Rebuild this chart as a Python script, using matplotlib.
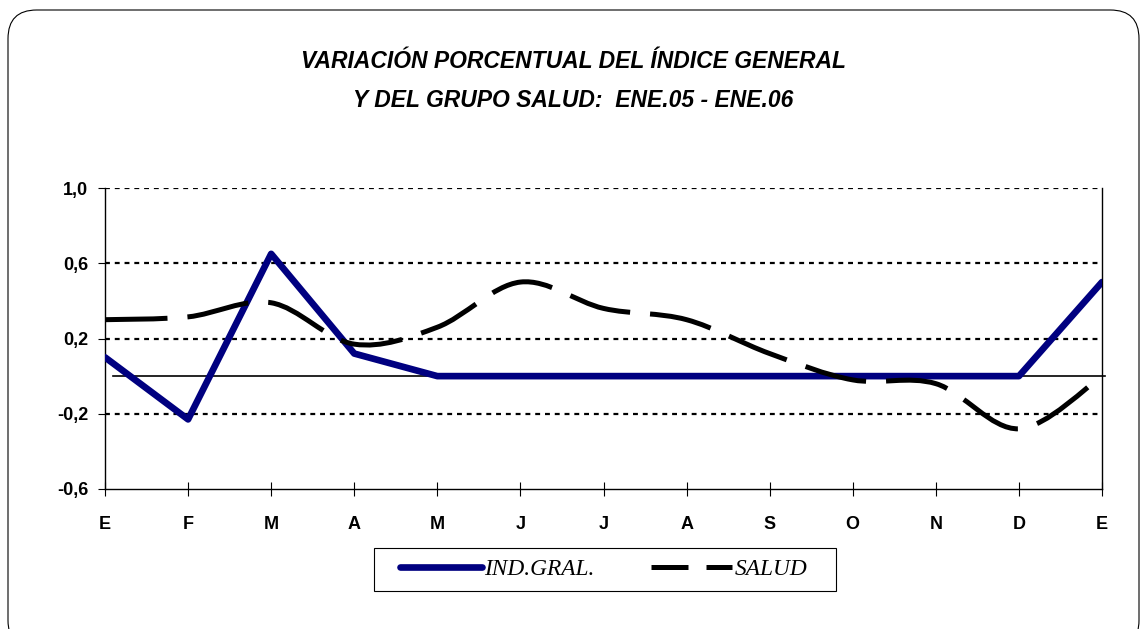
import numpy as np
import matplotlib
matplotlib.use("Agg")
from matplotlib import pyplot as plt
from matplotlib.path import Path
from matplotlib.patches import PathPatch, FancyBboxPatch, Rectangle
from matplotlib.lines import Line2D

months = ["E", "F", "M", "A", "M", "J", "J", "A", "S", "O", "N", "D", "E"]
ind_gral = [0.10, -0.23, 0.65, 0.12, 0.0, 0.0, 0.0, 0.0, 0.0, 0.0, 0.0, 0.0, 0.50]
salud = [0.30, 0.315, 0.39, 0.17, 0.26, 0.50, 0.36, 0.30, 0.12, -0.02, -0.04, -0.28, 0.0]
yticks = [-0.6, -0.2, 0.2, 0.6, 1.0]
ylabels = ["-0,6", "-0,2", "0,2", "0,6", "1,0"]

title = "VARIACIÓN PORCENTUAL DEL ÍNDICE GENERAL\nY DEL GRUPO SALUD:  ENE.05 - ENE.06"

NAVY = "#000080"


def smooth_path(x, y):
    # bezier segments like the spreadsheet "smoothed line"
    x = list(x)
    y = list(y)
    n = len(x)
    verts = [(x[0], y[0])]
    codes = [Path.MOVETO]
    for i in range(n - 1):
        x0, y0 = (x[i - 1], y[i - 1]) if i > 0 else (x[i], y[i])
        x1, y1 = x[i], y[i]
        x2, y2 = x[i + 1], y[i + 1]
        x3, y3 = (x[i + 2], y[i + 2]) if i + 2 < n else (x2, y2)
        c1 = (x1 + (x2 - x0) / 6.0, y1 + (y2 - y0) / 6.0)
        c2 = (x2 - (x3 - x1) / 6.0, y2 - (y3 - y1) / 6.0)
        verts += [c1, c2, (x2, y2)]
        codes += [Path.CURVE4] * 3
    return Path(verts, codes)


fig = plt.figure(figsize=(11.47, 6.29), dpi=100)

border = FancyBboxPatch((8 / 1147, -20 / 629), 1131 / 1147, 639 / 629,
                        boxstyle="round,pad=0,rounding_size=0.025",
                        transform=fig.transFigure, fill=False,
                        edgecolor="black", linewidth=0.8, mutation_aspect=1147 / 629)
fig.patches.append(border)

fig.text(0.5, 0.871, title, ha="center", va="center", fontsize=16.5,
         family="Liberation Sans", style="italic", weight="bold",
         linespacing=1.85)

ax = fig.add_axes([105 / 1147, 1 - 489 / 629, 997 / 1147, 301 / 629])

x = np.arange(len(months))

for yv in [0.2, 0.6, 1.0, -0.2]:
    ax.axhline(yv, color="black", lw=1.6, linestyle=(0, (2.2, 2.2)), zorder=1)
ax.axhline(0, color="black", lw=1.2, xmin=0.008, xmax=1.003, clip_on=False, zorder=2)

ax.plot(x, ind_gral, color=NAVY, lw=4.8, zorder=3, solid_capstyle="round",
        label="IND.GRAL.")

sp = PathPatch(smooth_path(x, salud), fill=False, edgecolor="black", lw=3.6,
               linestyle=(0, (12.5, 4)), capstyle="butt", zorder=4)
ax.add_patch(sp)

ax.set_xlim(0, 12)
ax.set_ylim(-0.6, 1.0)
ax.set_xticks(x)
ax.set_xticklabels(months)
ax.set_yticks(yticks)
ax.set_yticklabels(ylabels)
for lab in ax.get_xticklabels() + ax.get_yticklabels():
    lab.set_fontweight("bold")
    lab.set_fontsize(13)
    lab.set_family("Liberation Sans")
ax.tick_params(axis="x", direction="inout", length=9.5, width=0.8, pad=15)
ax.tick_params(axis="y", direction="out", length=5, width=0.8, pad=7)
ax.spines["top"].set_visible(False)
for s in ["left", "bottom", "right"]:
    ax.spines[s].set_linewidth(1.0)

# legend box drawn apart so it can be wider than its contents
fig.patches.append(Rectangle((374 / 1147, 1 - 591 / 629), 462 / 1147, 43 / 629,
                             transform=fig.transFigure, fill=False,
                             edgecolor="black", linewidth=0.8))
handles = [Line2D([], [], color=NAVY, lw=4.8, solid_capstyle="round"),
           Line2D([], [], color="black", lw=3.6, linestyle=(0, (7.4, 3.6)))]
leg = fig.legend(handles, ["IND.GRAL.", "SALUD"], loc="center",
                 bbox_to_anchor=(604 / 1147, 1 - 569.5 / 629), ncol=2,
                 frameon=False, handlelength=3.5, handletextpad=0.1,
                 columnspacing=2.4, borderpad=0.3, borderaxespad=0,
                 prop={"family": "Liberation Serif", "style": "italic",
                       "size": 16.8})

fig.savefig("out.png", dpi=100)
